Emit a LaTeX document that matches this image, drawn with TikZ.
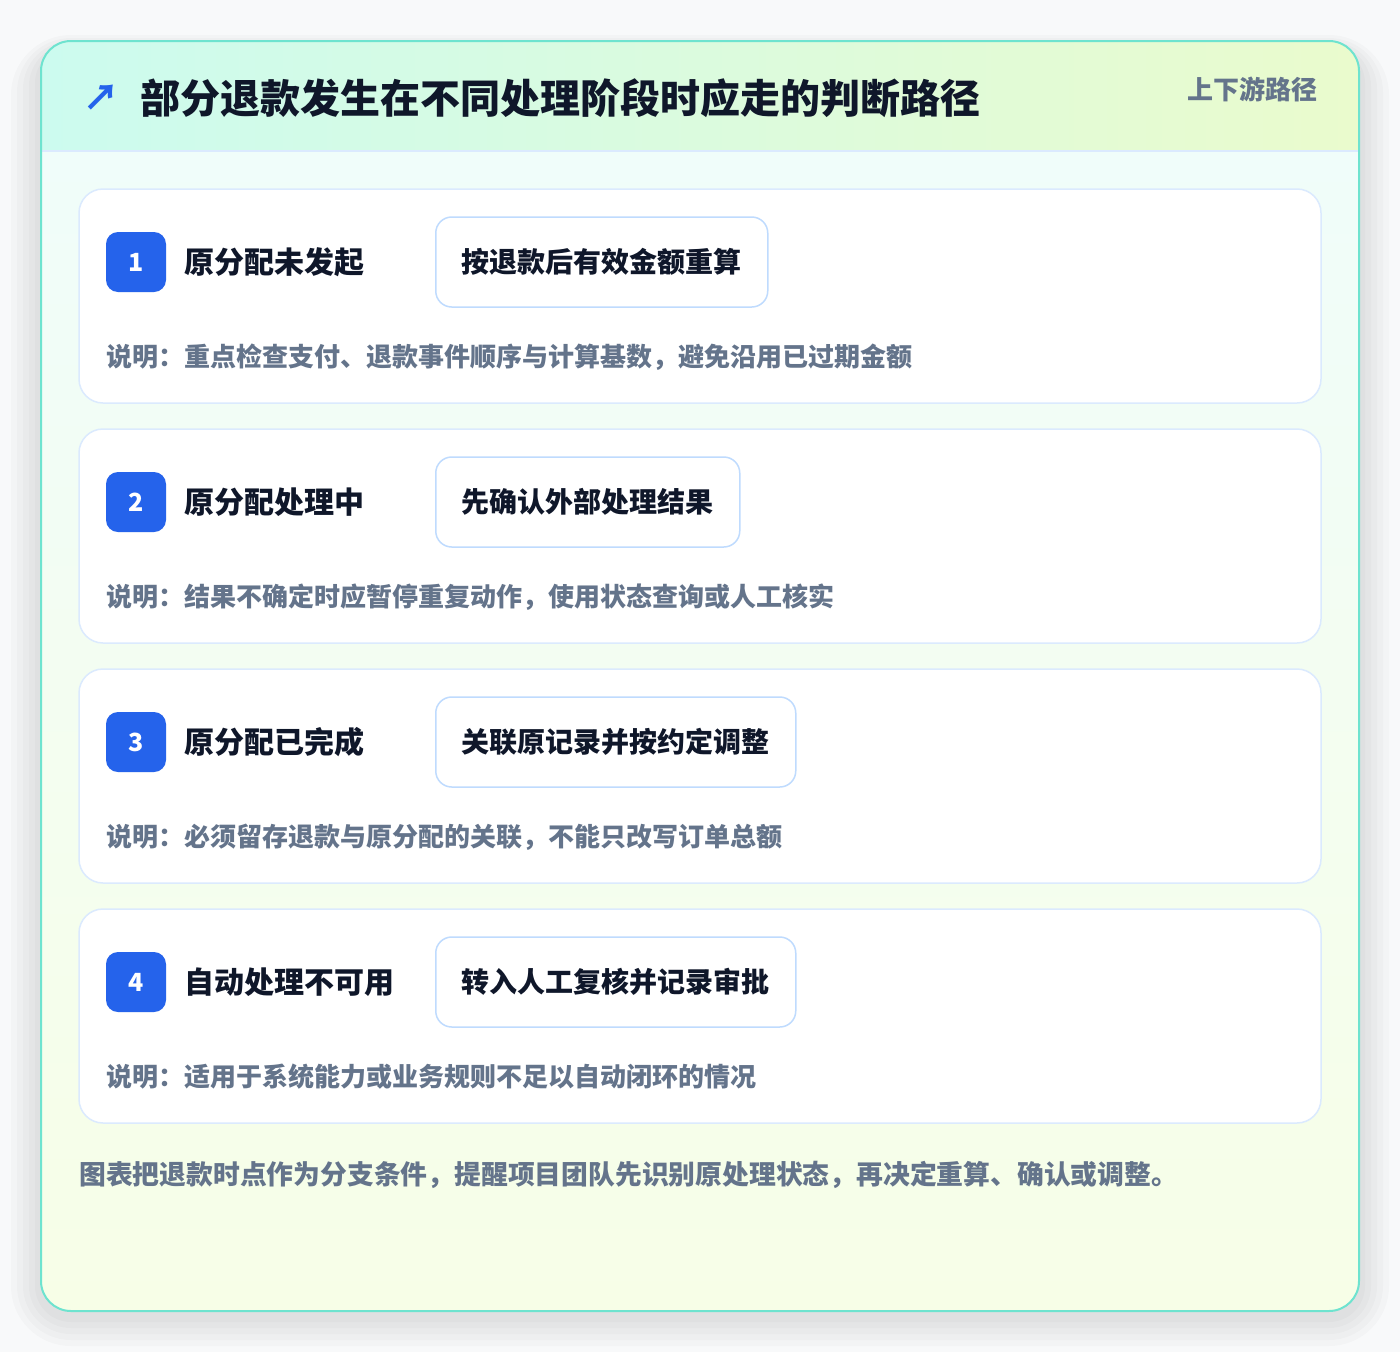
\documentclass[tikz,border=0pt]{standalone}
\usepackage{fontspec}
\setmainfont{Noto Sans CJK SC}
\usepackage{xcolor}
\usepackage{tikz}
\usetikzlibrary{positioning}

\definecolor{pagebg}{HTML}{F8F9FA}
\definecolor{frame}{HTML}{6EE3CF}
\definecolor{headleft}{HTML}{CCFBEF}
\definecolor{headright}{HTML}{EAFBCD}
\definecolor{bodytop}{HTML}{F0FDFA}
\definecolor{bodybottom}{HTML}{F7FEE7}
\definecolor{cardline}{HTML}{DBEAFE}
\definecolor{actionline}{HTML}{BFDBFE}
\definecolor{badgeblue}{HTML}{2563EB}
\definecolor{ink}{HTML}{0F172A}
\definecolor{muted}{HTML}{64748B}

\begin{document}
\begin{tikzpicture}[x=1pt, y=-1pt, node distance=26pt,
  haze/.style = {fill=black, fill opacity=0.018},
  card/.style = {draw=cardline, fill=white, line width=1.5pt, rounded corners=24pt, minimum width=1242pt, minimum height=214pt, inner sep=0pt, outer sep=0pt},
  badge/.style = {fill=badgeblue, rounded corners=12pt, minimum size=60pt, inner sep=0pt, text=white, font=\fontsize{25}{28}\selectfont\bfseries},
  stage/.style = {inner sep=0pt, text=ink, font=\fontsize{30}{34}\selectfont\bfseries},
  action/.style = {anchor=west, draw=actionline, fill=white, line width=1.5pt, rounded corners=16pt, minimum height=90pt, inner xsep=26pt, text=ink, font=\fontsize{28}{32}\selectfont\bfseries},
  desc/.style = {anchor=west, inner sep=0pt, text=muted, font=\fontsize{26}{30}\selectfont\bfseries}]
\useasboundingbox (0,0) rectangle (1400,1352);
\fill[pagebg] (0,0) rectangle (1400,1352);

% soft shadow under the panel
\fill[haze, rounded corners=60pt] (11,35) rectangle (1389,1346);
\fill[haze, rounded corners=54pt] (17,38) rectangle (1383,1340);
\fill[haze, rounded corners=48pt] (23,41) rectangle (1377,1334);
\fill[haze, rounded corners=42pt] (29,44) rectangle (1371,1328);
\fill[haze, rounded corners=36pt] (35,47) rectangle (1365,1322);

% outer panel
\begin{scope}
\clip[rounded corners=30pt] (41,41) rectangle (1359,1311);
\shade[top color=bodytop, bottom color=bodybottom] (41,151) rectangle (1359,1311);
\shade[left color=headleft, right color=headright] (41,41) rectangle (1359,151);
\draw[cardline, line width=1.5pt] (41,151) -- (1359,151);
\end{scope}
\draw[frame, line width=2pt, rounded corners=30pt] (41,41) rectangle (1359,1311);

% header
\node[anchor=west, inner sep=0pt, text=ink, font=\fontsize{40}{44}\selectfont\bfseries] (title) at (140,98) {部分退款发生在不同处理阶段时应走的判断路径};
\node[left=20pt of title, inner sep=0pt, text=badgeblue, font=\fontsize{36}{38}\selectfont\bfseries] (icon) {↗};
\node[anchor=east, inner sep=0pt, text=muted, font=\fontsize{26}{30}\selectfont\bfseries] (tag) at (1318,89) {上下游路径};

% row 1
\node[card] (c1) at (700,296) {};
\node[badge] (b1) at ([shift={(57,73)}]c1.north west) {1};
\node[stage, right=18pt of b1] (s1) {原分配未发起};
\node[action] (a1) at ([shift={(356,73)}]c1.north west) {按退款后有效金额重算};
\node[desc] (d1) at ([shift={(27,168)}]c1.north west) {说明：重点检查支付、退款事件顺序与计算基数，避免沿用已过期金额};

% row 2
\node[card, below=of c1] (c2) {};
\node[badge] (b2) at ([shift={(57,73)}]c2.north west) {2};
\node[stage, right=18pt of b2] (s2) {原分配处理中};
\node[action] (a2) at ([shift={(356,73)}]c2.north west) {先确认外部处理结果};
\node[desc] (d2) at ([shift={(27,168)}]c2.north west) {说明：结果不确定时应暂停重复动作，使用状态查询或人工核实};

% row 3
\node[card, below=of c2] (c3) {};
\node[badge] (b3) at ([shift={(57,73)}]c3.north west) {3};
\node[stage, right=18pt of b3] (s3) {原分配已完成};
\node[action] (a3) at ([shift={(356,73)}]c3.north west) {关联原记录并按约定调整};
\node[desc] (d3) at ([shift={(27,168)}]c3.north west) {说明：必须留存退款与原分配的关联，不能只改写订单总额};

% row 4
\node[card, below=of c3] (c4) {};
\node[badge] (b4) at ([shift={(57,73)}]c4.north west) {4};
\node[stage, right=18pt of b4] (s4) {自动处理不可用};
\node[action] (a4) at ([shift={(356,73)}]c4.north west) {转入人工复核并记录审批};
\node[desc] (d4) at ([shift={(27,168)}]c4.north west) {说明：适用于系统能力或业务规则不足以自动闭环的情况};

% footnote
\node[desc, font=\fontsize{26.8}{30}\selectfont\bfseries] (note) at ([shift={(0,52)}]c4.south west) {图表把退款时点作为分支条件，提醒项目团队先识别原处理状态，再决定重算、确认或调整。};
\end{tikzpicture}
\end{document}
